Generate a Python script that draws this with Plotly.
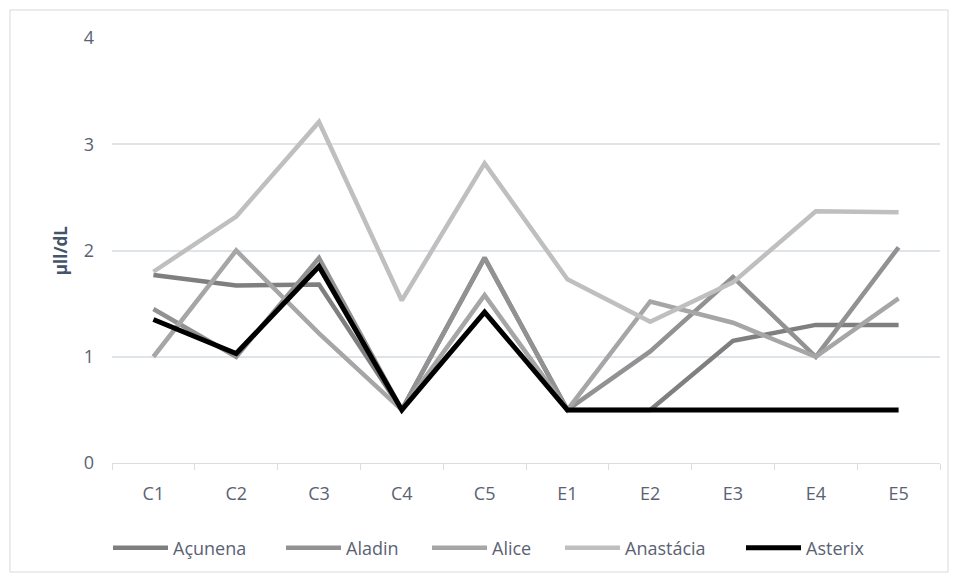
import plotly.graph_objects as go

categories = ["C1", "C2", "C3", "C4", "C5", "E1", "E2", "E3", "E4", "E5"]
acunena = [1.77, 1.67, 1.68, 0.5, 1.93, 0.5, 0.5, 1.15, 1.30, 1.30]
aladin = [1.45, 1.00, 1.93, 0.5, 1.93, 0.5, 1.05, 1.75, 1.00, 2.03]
alice = [1.00, 2.00, 1.22, 0.5, 1.58, 0.5, 1.52, 1.32, 1.00, 1.55]
anastacia = [1.80, 2.32, 3.21, 1.53, 2.82, 1.73, 1.33, 1.70, 2.37, 2.36]
asterix = [1.35, 1.03, 1.85, 0.5, 1.42, 0.5, 0.5, 0.5, 0.5, 0.5]

series = [
    ("Açunena", acunena, "#7f7f7f", 4.5),
    ("Aladin", aladin, "#929292", 4.5),
    ("Alice", alice, "#a6a6a6", 4.5),
    ("Anastácia", anastacia, "#bfbfbf", 4.5),
    ("Asterix", asterix, "#000000", 5),
]
# legend entry left edges (px) in the reference
legend_px = [116, 289, 435, 568, 749]

text_color = "#5a6272"
font_family = "Open Sans, Liberation Sans, sans-serif"
L, R, T, B, W, H = 112, 18, 38, 116, 958, 579
pw = W - L - R

fig = go.Figure()
legend_layouts = {}
for i, (name, vals, color, w) in enumerate(series):
    lname = "legend" if i == 0 else f"legend{i+1}"
    fig.add_trace(go.Scatter(
        x=categories, y=vals, name=name, mode="lines",
        line=dict(color=color, width=w), legend=lname,
    ))
    legend_layouts[lname] = dict(
        orientation="h", x=(legend_px[i] - 8 - L) / pw, xanchor="left",
        y=-0.2, yanchor="middle", font=dict(size=18, color=text_color),
        itemwidth=55, bgcolor="rgba(0,0,0,0)",
    )

fig.update_layout(
    width=W, height=H,
    margin=dict(l=L, r=R, t=T, b=B),
    paper_bgcolor="white", plot_bgcolor="white",
    font=dict(family=font_family, size=18, color=text_color),
    showlegend=True,
    shapes=[dict(type="rect", xref="paper", yref="paper",
                 x0=-0.1232, x1=1.0097, y0=-0.2565, y1=1.0659,
                 line=dict(color="#d9d9d9", width=1), fillcolor="rgba(0,0,0,0)", layer="below")],
    annotations=[dict(text="<b>µll/dL</b>", xref="paper", yref="paper",
                      x=-0.062, y=0.5, xanchor="center", yanchor="middle",
                      textangle=-90, showarrow=False,
                      font=dict(size=17, color="#44546a"))],
    **legend_layouts,
)

fig.update_xaxes(
    type="category", showgrid=False, showline=True, linecolor="#d9dde4", linewidth=1,
    ticks="outside", tickson="boundaries", ticklen=6, tickcolor="#d9dde4",
    tickfont=dict(size=18, color=text_color), ticklabelstandoff=14,
    range=[-0.5, 9.5],
)
fig.update_yaxes(
    range=[0, 4], dtick=1, showgrid=True, gridcolor="#dfe3ea", gridwidth=1.5,
    zeroline=False, showline=False, ticks="",
    tickfont=dict(size=18, color=text_color), ticklabelstandoff=17,
)

fig.write_html("out.html")
